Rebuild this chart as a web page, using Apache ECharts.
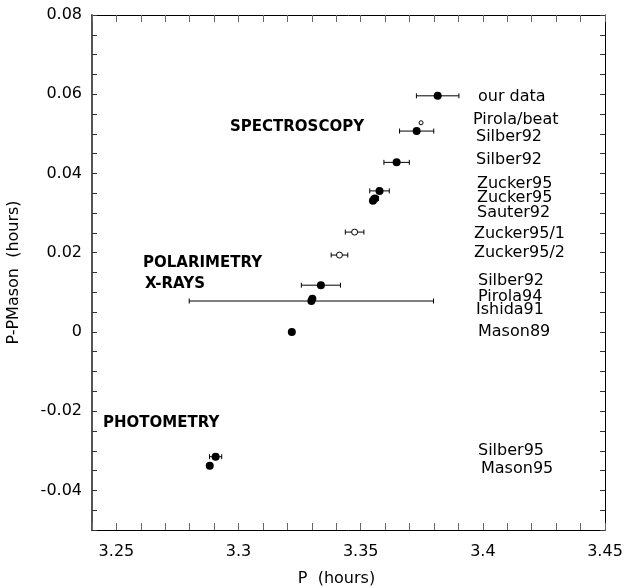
<!DOCTYPE html>
<html>
<head>
<meta charset="utf-8">
<script src="https://cdn.jsdelivr.net/npm/echarts@6/dist/echarts.min.js"></script>
<style>
html, body { margin: 0; padding: 0; background: #fff; }
#chart { width: 629px; height: 588px; }
</style>
</head>
<body>
<div id="chart"></div>
<script>
// period measurements, P and P - P(Mason)
var sources = ['our data', 'Pirola/beat', 'Silber92', 'Silber92', 'Zucker95', 'Zucker95', 'Sauter92',
    'Zucker95/1', 'Zucker95/2', 'Silber92', 'Pirola94', 'Ishida91', 'Mason89', 'Silber95', 'Mason95'];
var periods = [3.3815, 3.3747, 3.3729, 3.3647, 3.3577, 3.3558, 3.3550,
    3.3475, 3.3413, 3.3337, 3.3302, 3.3298, 3.3218, 3.2906, 3.2882];
var offsets = [0.0596, 0.0528, 0.0507, 0.0428, 0.0356, 0.0337, 0.0331,
    0.0252, 0.0194, 0.0118, 0.0084, 0.0078, 0.0000, -0.0315, -0.0338];
var errors = [0.0087, 0, 0.0070, 0.0052, 0.0040, 0.0015, 0,
    0.0038, 0.0034, 0.0080, 0, 0.0500, 0, 0.0025, 0];
var markers = ['filled', 'small', 'filled', 'filled', 'filled', 'filled', 'filled',
    'open', 'open', 'filled', 'filled', 'filled', 'filled', 'filled', 'filled'];
var methods = ['SPECTROSCOPY', 'POLARIMETRY', 'X-RAYS', 'PHOTOMETRY'];

// where the text notes sit (pixels)
var sourcePos = [[478, 97], [473, 120], [476, 137], [476, 160], [477, 184], [477, 198], [477, 213],
    [474, 234], [474, 253], [478, 281], [478, 297], [476, 310], [478, 332], [478, 451], [481, 469]];
var methodPos = [[230, 127], [143, 263], [145, 284], [103, 423]];

var font = '"DejaVu Sans", sans-serif';

var filled = [], hollow = [], small = [], bars = [];
for (var i = 0; i < sources.length; i++) {
    var pt = [periods[i], offsets[i]];
    if (markers[i] === 'filled') filled.push(pt);
    else if (markers[i] === 'open') hollow.push(pt);
    else small.push(pt);
    if (errors[i] > 0) bars.push([periods[i], offsets[i], periods[i] - errors[i], periods[i] + errors[i]]);
}

var graphics = [];
sources.forEach(function (s, i) {
    graphics.push({
        type: 'text', x: sourcePos[i][0], y: sourcePos[i][1],
        style: {text: s, fill: '#000', font: '16px ' + font, verticalAlign: 'middle'}
    });
});
methods.forEach(function (s, i) {
    graphics.push({
        type: 'text', x: methodPos[i][0], y: methodPos[i][1],
        style: {text: s, fill: '#000', font: 'bold 15px ' + font, verticalAlign: 'middle'}
    });
});

function xLabel(v) {
    var k = Math.round(v * 100);
    if (k % 5 !== 0) return '';
    return String(k / 100);
}
function yLabel(v) {
    var k = Math.round(v * 1000);
    if (k % 20 !== 0) return '';
    return k === 0 ? '0' : String(k / 1000);
}

var myChart = echarts.init(document.getElementById('chart'));
var option = {
    animation: false,
    grid: {left: 92, right: 24, top: 15, bottom: 58, containLabel: false, outerBoundsMode: 'none'},
    xAxis: [{
        type: 'value', min: 3.24, max: 3.45, interval: 0.01,
        name: 'P  (hours)', nameLocation: 'middle', nameGap: 41,
        nameTextStyle: {fontFamily: font, fontSize: 16, color: '#000', padding: [0, 24, 0, 0]},
        axisLine: {show: true, onZero: false, lineStyle: {color: '#000', width: 1}},
        axisTick: {show: true, inside: true, length: 7, lineStyle: {color: '#666'}},
        axisLabel: {formatter: xLabel, margin: 14, fontFamily: font, fontSize: 16, color: '#000'},
        splitLine: {show: false}
    }, {
        type: 'value', position: 'top', min: 3.24, max: 3.45, interval: 0.01,
        axisLine: {show: true, onZero: false, lineStyle: {color: '#000', width: 1}},
        axisTick: {show: true, inside: true, length: 7, lineStyle: {color: '#666'}},
        axisLabel: {show: false},
        splitLine: {show: false}
    }],
    yAxis: [{
        type: 'value', min: -0.05, max: 0.08, interval: 0.005,
        name: 'P-PMason  (hours)', nameLocation: 'middle', nameGap: 70,
        nameTextStyle: {fontFamily: font, fontSize: 16, color: '#000'},
        axisLine: {show: true, onZero: false, lineStyle: {color: '#555', width: 2}},
        axisTick: {show: true, inside: true, length: 5, lineStyle: {color: '#333'}},
        axisLabel: {formatter: yLabel, margin: 10, fontFamily: font, fontSize: 16, color: '#000'},
        splitLine: {show: false}
    }, {
        type: 'value', position: 'right', min: -0.05, max: 0.08, interval: 0.005,
        axisLine: {show: true, onZero: false, lineStyle: {color: '#000', width: 1}},
        axisTick: {show: true, inside: true, length: 5, lineStyle: {color: '#333'}},
        axisLabel: {show: false},
        splitLine: {show: false}
    }],
    graphic: graphics,
    series: [{
        type: 'custom',
        z: 1,
        data: bars,
        encode: {x: [0, 2, 3], y: 1},
        renderItem: function (params, api) {
            var y = api.value(1);
            var a = api.coord([api.value(2), y]);
            var b = api.coord([api.value(3), y]);
            var h = 2.5;
            var st = {stroke: '#000', lineWidth: 1};
            return {
                type: 'group',
                children: [
                    {type: 'line', shape: {x1: a[0], y1: a[1], x2: b[0], y2: b[1]}, style: st},
                    {type: 'line', shape: {x1: a[0], y1: a[1] - h, x2: a[0], y2: a[1] + h}, style: st},
                    {type: 'line', shape: {x1: b[0], y1: b[1] - h, x2: b[0], y2: b[1] + h}, style: st}
                ]
            };
        }
    }, {
        type: 'scatter', z: 3, data: filled, symbolSize: 8,
        itemStyle: {color: '#000', opacity: 1}
    }, {
        type: 'scatter', z: 3, data: hollow, symbolSize: 6,
        itemStyle: {color: '#fff', borderColor: '#000', borderWidth: 1, opacity: 1}
    }, {
        type: 'scatter', z: 3, data: small, symbolSize: 4,
        itemStyle: {color: '#fff', borderColor: '#000', borderWidth: 1, opacity: 1}
    }]
};
myChart.setOption(option);
</script>
</body>
</html>
